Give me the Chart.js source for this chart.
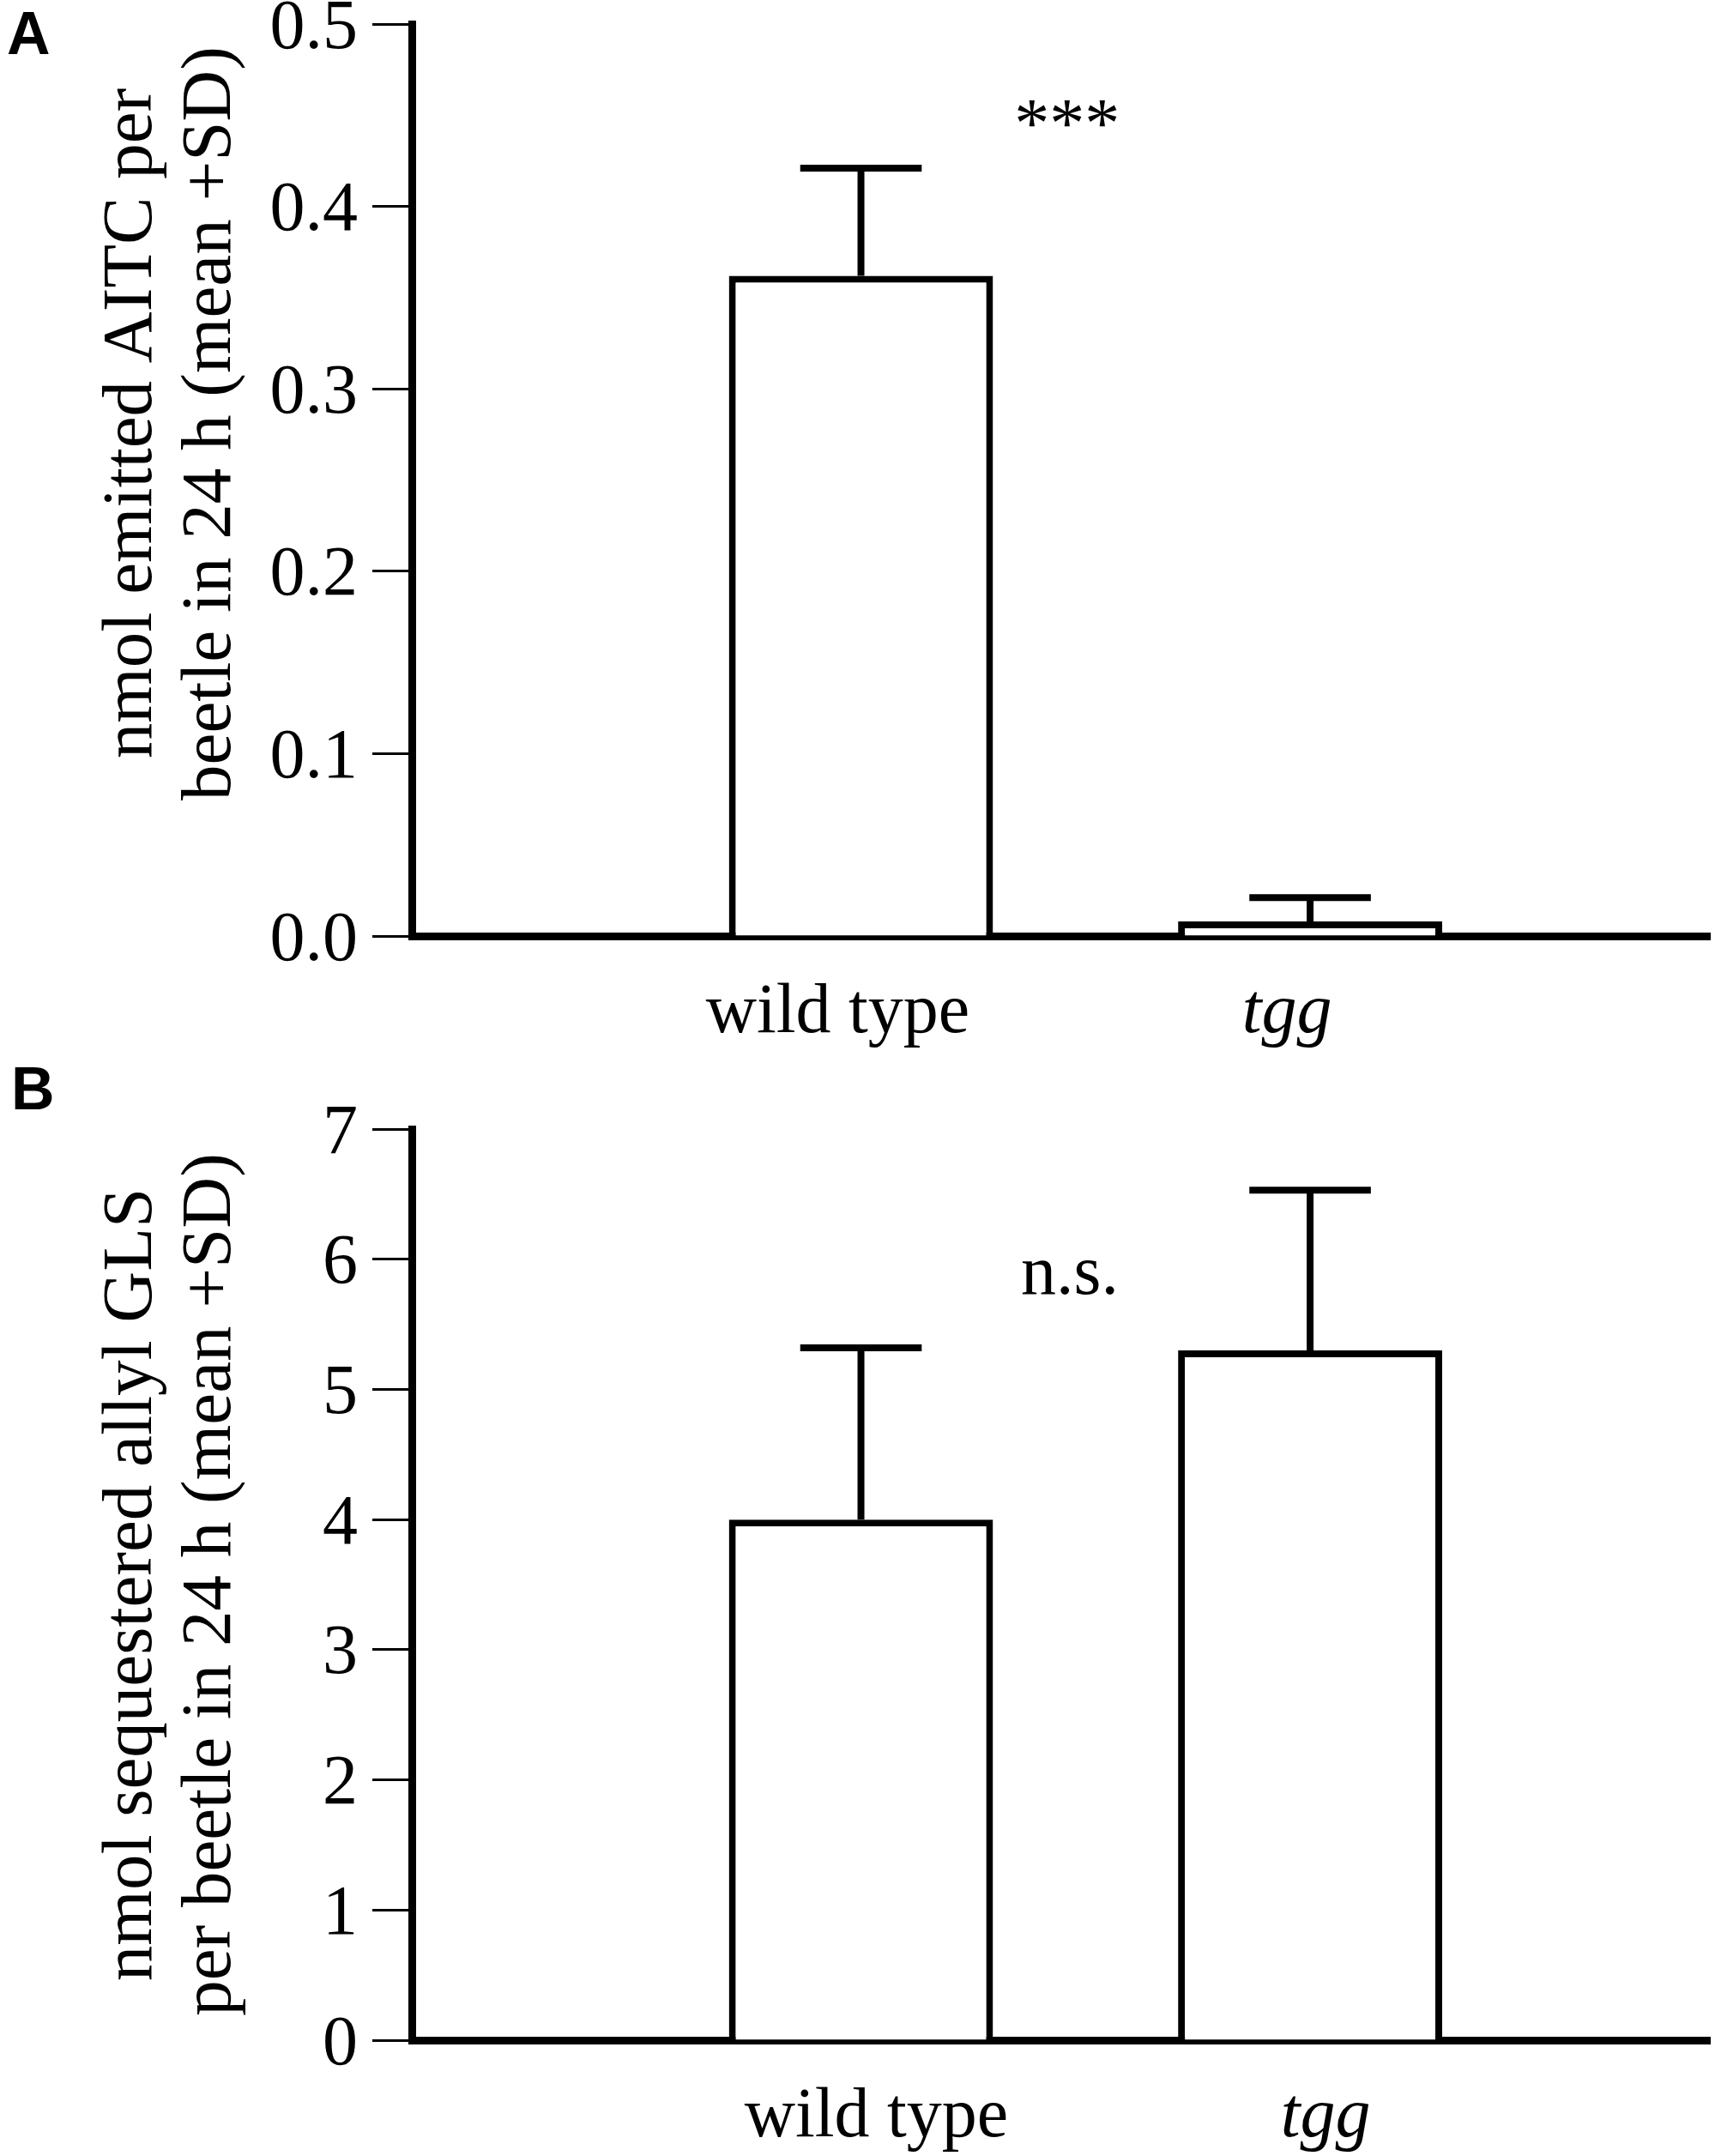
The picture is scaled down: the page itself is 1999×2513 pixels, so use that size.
<!DOCTYPE html>
<html>
<head>
<meta charset="utf-8">
<script src="https://cdn.jsdelivr.net/npm/chart.js@4.4.1/dist/chart.umd.min.js"></script>
<style>
  html, body { margin: 0; padding: 0; background: #fff; }
  body { width: 1999px; height: 2513px; position: relative; overflow: hidden; }
  canvas { position: absolute; left: 0; }
  #chartA { top: -40px; }
  #chartB { top: 1200px; }
</style>
</head>
<body>
<canvas id="chartA" width="1999" height="1340"></canvas>
<canvas id="chartB" width="1999" height="1313"></canvas>
<script>
// categories and their position on the x axis
const groups = ['wild type', 'tgg'];
const groupPos = [1, 2];

// panel A: emitted AITC (nmol per beetle in 24 h)
const aitcMean = [0.362, 0.008];
const aitcSd = [0.059, 0.013];

// panel B: sequestered allyl GLS (nmol per beetle in 24 h)
const glsMean = [4.0, 5.3];
const glsSd = [1.32, 1.23];

const serif = "'Liberation Serif', 'Times New Roman', serif";

// mean + SD whiskers on top of each bar
const errorBars = {
    id: 'errorBars',
    afterDatasetsDraw(chart, args, opts) {
        const { ctx } = chart;
        const y = chart.scales.y;
        const meta = chart.getDatasetMeta(0);
        ctx.save();
        ctx.strokeStyle = '#000';
        ctx.lineWidth = 8;
        meta.data.forEach((bar, i) => {
            const top = y.getPixelForValue(opts.means[i] + opts.sds[i]);
            const half = bar.width * 0.23;
            ctx.beginPath();
            ctx.moveTo(bar.x, bar.y);
            ctx.lineTo(bar.x, top);
            ctx.moveTo(bar.x - half, top);
            ctx.lineTo(bar.x + half, top);
            ctx.stroke();
        });
        ctx.restore();
    }
};

// panel letter, significance note and the two-line rotated y title
const decor = {
    id: 'decor',
    afterDraw(chart, args, o) {
        const { ctx, chartArea } = chart;
        const { x, y } = chart.scales;
        ctx.save();
        ctx.fillStyle = '#000';
        ctx.textBaseline = 'alphabetic';

        ctx.font = "bold 70px 'Liberation Sans', Arial, sans-serif";
        ctx.textAlign = 'left';
        ctx.fillText(o.letter, o.letterX, o.letterY);

        ctx.font = '82px ' + serif;
        ctx.textAlign = 'center';
        ctx.fillText(o.note, x.getPixelForValue(o.noteX), y.getPixelForValue(o.noteY));

        ctx.font = '83px ' + serif;
        const cy = (chartArea.top + chartArea.bottom) / 2 + o.titleShift;
        o.title.forEach((line, i) => {
            ctx.save();
            ctx.translate(o.titleX[i], cy);
            ctx.rotate(-Math.PI / 2);
            ctx.fillText(line, 0, 0);
            ctx.restore();
        });
        ctx.restore();
    }
};

const makeChart = (id, means, sds, yMax, yStep, digits, cfg) => {
    const ctx = document.getElementById(id).getContext('2d');
    return new Chart(ctx, {
        type: 'bar',
        data: {
            datasets: [{
                data: groupPos.map((p, i) => ({ x: p, y: means[i] })),
                backgroundColor: '#fff',
                borderColor: '#000',
                borderWidth: 8,
                borderSkipped: 'bottom',
                barPercentage: 0.588,
                categoryPercentage: 1
            }]
        },
        plugins: [errorBars, decor],
        options: {
            responsive: false,
            animation: false,
            devicePixelRatio: 1,
            layout: { padding: { top: cfg.padTop, right: 6, bottom: 0, left: 0 } },
            scales: {
                x: {
                    type: 'linear',
                    min: 0,
                    max: 2.89,
                    offset: false,
                    z: 1,
                    grid: { display: false },
                    border: { display: true, color: '#000', width: 9 },
                    afterBuildTicks: s => { s.ticks = groupPos.map(v => ({ value: v })); },
                    afterFit: s => { s.height = cfg.xHeight; },
                    ticks: {
                        padding: 33,
                        labelOffset: cfg.labelShift,
                        color: '#000',
                        autoSkip: false,
                        maxRotation: 0,
                        font: c => ({ family: serif, size: 82, style: c.index === 1 ? 'italic' : 'normal' }),
                        callback: (v, i) => groups[i]
                    }
                },
                y: {
                    min: 0,
                    max: yMax,
                    afterFit: s => { s.width = 480; },
                    grid: { drawOnChartArea: false, drawTicks: true, tickLength: 46, tickWidth: 3, tickColor: '#000' },
                    border: { display: true, color: '#000', width: 9 },
                    ticks: {
                        stepSize: yStep,
                        padding: 17,
                        labelOffset: 6,
                        color: '#000',
                        font: { family: serif, size: 82 },
                        callback: v => v.toFixed(digits)
                    }
                }
            },
            plugins: {
                legend: { display: false },
                tooltip: { enabled: false },
                errorBars: { means, sds },
                decor: cfg.decor
            }
        }
    });
};

makeChart('chartA', aitcMean, aitcSd, 0.5, 0.1, 1, {
    padTop: 68,
    xHeight: 209,
    labelShift: -27,
    decor: {
        letter: 'A', letterX: 8, letterY: 103,
        note: '***', noteX: 1.459, noteY: 0.4327,
        title: ['nmol emitted AITC per', 'beetle in 24 h (mean +SD)'],
        titleX: [176, 268], titleShift: -66
    }
});

makeChart('chartB', glsMean, glsSd, 7, 1, 0, {
    padTop: 116,
    xHeight: 135,
    labelShift: 18,
    decor: {
        letter: 'B', letterX: 13, letterY: 93,
        note: 'n.s.', noteX: 1.465, noteY: 5.735,
        title: ['nmol sequestered allyl GLS', 'per beetle in 24 h (mean +SD)'],
        titleX: [176, 268], titleShift: 0
    }
});
</script>
</body>
</html>
